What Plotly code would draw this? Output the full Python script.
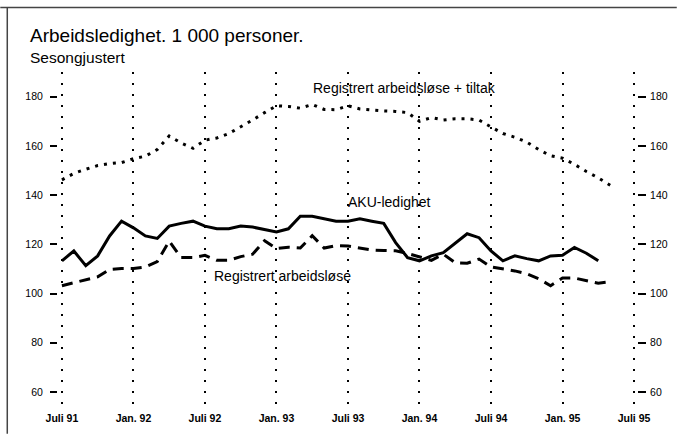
import plotly.graph_objects as go

# months counted from Juli 91 (0) ... mai 95 (46)
tick_vals = [0, 6, 12, 18, 24, 30, 36, 42, 48]
tick_text = ["Juli 91", "Jan. 92", "Juli 92", "Jan. 93", "Juli 93",
             "Jan. 94", "Juli 94", "Jan. 95", "Juli 95"]

aku = [113.3, 117.3, 111.3, 115.3, 123.4, 129.4, 126.7, 123.4, 122.4, 127.4,
       128.5, 129.4, 127.4, 126.3, 126.3, 127.4, 127.0, 126.0, 125.0, 126.3,
       131.4, 131.4, 130.4, 129.4, 129.4, 130.4, 129.4, 128.5, 120.7, 114.6,
       113.3, 115.3, 116.6, 120.4, 124.3, 122.7, 117.3, 113.3, 115.3, 114.2,
       113.3, 115.3, 115.6, 118.7, 116.4, 113.3]

registrert = [103.2, 104.3, 105.5, 106.8, 109.8, 110.2, 110.2, 110.8, 113.0, 121.3,
              114.6, 114.6, 115.5, 113.5, 113.5, 115.0, 116.0, 121.5, 118.3, 118.8,
              118.5, 123.5, 118.5, 119.5, 119.3, 118.5, 117.7, 117.5, 117.4, 116.3,
              114.8, 113.5, 116.0, 112.5, 112.3, 114.0, 110.8, 110.0, 109.2, 108.0,
              106.0, 103.2, 106.3, 106.3, 105.3, 104.2, 104.8]

reg_tiltak = [146.2, 148.8, 150.5, 152.0, 152.8, 153.2, 154.8, 155.8, 158.5, 164.0,
              161.2, 159.0, 162.3, 163.2, 165.0, 167.7, 170.5, 173.5, 176.3, 176.0,
              175.3, 176.8, 174.8, 174.7, 176.3, 175.0, 174.5, 174.2, 174.0, 173.5,
              170.0, 171.5, 170.5, 171.0, 171.0, 170.5, 167.7, 165.0, 163.5, 161.5,
              158.5, 156.0, 155.0, 152.5, 149.6, 147.0, 144.0]

y_ticks = [60, 80, 100, 120, 140, 160, 180]

FONT = "Liberation Sans, Arial, Helvetica, sans-serif"

fig = go.Figure()

fig.add_trace(go.Scatter(
    x=list(range(len(reg_tiltak))), y=reg_tiltak, mode="lines",
    line=dict(color="black", width=3, dash="3px,6px"), hoverinfo="skip"))
fig.add_trace(go.Scatter(
    x=list(range(len(registrert))), y=registrert, mode="lines",
    line=dict(color="black", width=3, dash="11px,7px"), hoverinfo="skip"))
fig.add_trace(go.Scatter(
    x=list(range(len(aku))), y=aku, mode="lines",
    line=dict(color="black", width=3), hoverinfo="skip"))
# empty trace so the right-hand axis is drawn
fig.add_trace(go.Scatter(x=[None], y=[None], yaxis="y2", showlegend=False))

axis_font = dict(family=FONT, size=10.5, color="black")

fig.update_layout(
    width=680, height=436,
    margin=dict(l=58, r=40, t=72, b=24),
    plot_bgcolor="white", paper_bgcolor="white",
    showlegend=False,
    font=dict(family=FONT, color="black"),
    xaxis=dict(
        range=[-0.33, 48.25], tickvals=tick_vals, ticktext=tick_text,
        tickfont=dict(family=FONT, size=10.5, color="black", weight="bold"),
        showgrid=True, gridcolor="black", gridwidth=2, griddash="2px,9px",
        zeroline=False, showline=False, ticks=""),
    yaxis=dict(
        range=[52.7, 190], tickvals=y_ticks, tickfont=axis_font,
        ticks="outside", ticklen=7, tickwidth=1.5, tickcolor="black",
        ticklabelstandoff=5,
        showgrid=False, zeroline=False, showline=False),
    yaxis2=dict(
        range=[52.7, 190], tickvals=y_ticks, tickfont=axis_font,
        overlaying="y", side="right",
        ticks="outside", ticklen=8, tickwidth=1.5, tickcolor="black",
        ticklabelstandoff=2,
        showgrid=False, zeroline=False, showline=False),
)

# tekster
fig.add_annotation(x=-0.0515, y=1.109, xref="paper", yref="paper",
                   text="Arbeidsledighet. 1 000 personer.", showarrow=False,
                   xanchor="left", yanchor="middle", font=dict(size=19))
fig.add_annotation(x=-0.0515, y=1.044, xref="paper", yref="paper",
                   text="Sesongjustert", showarrow=False,
                   xanchor="left", yanchor="middle", font=dict(size=15.5))
fig.add_annotation(x=20.9, y=183.3, text="Registrert arbeidsløse + tiltak",
                   showarrow=False, xanchor="left", yanchor="middle",
                   font=dict(size=14))
fig.add_annotation(x=23.8, y=137.3, text="AKU-ledighet",
                   showarrow=False, xanchor="left", yanchor="middle",
                   font=dict(size=14))
fig.add_annotation(x=12.6, y=107.1, text="Registrert arbeidsløse",
                   showarrow=False, xanchor="left", yanchor="middle",
                   font=dict(size=14))

# ramme
fig.add_shape(type="line", xref="paper", yref="paper",
              x0=-0.0997, x1=1.0687, y0=1.191, y1=1.191,
              line=dict(color="#444444", width=1.5))
fig.add_shape(type="line", xref="paper", yref="paper",
              x0=-0.0876, x1=-0.0876, y0=1.191, y1=-0.0706,
              line=dict(color="#444444", width=1.5))

# page body has an 8px default margin; drop it so the figure fills the window
fig.write_html("out.html", config={"displayModeBar": False},
               post_script="document.body.style.margin='0';")
